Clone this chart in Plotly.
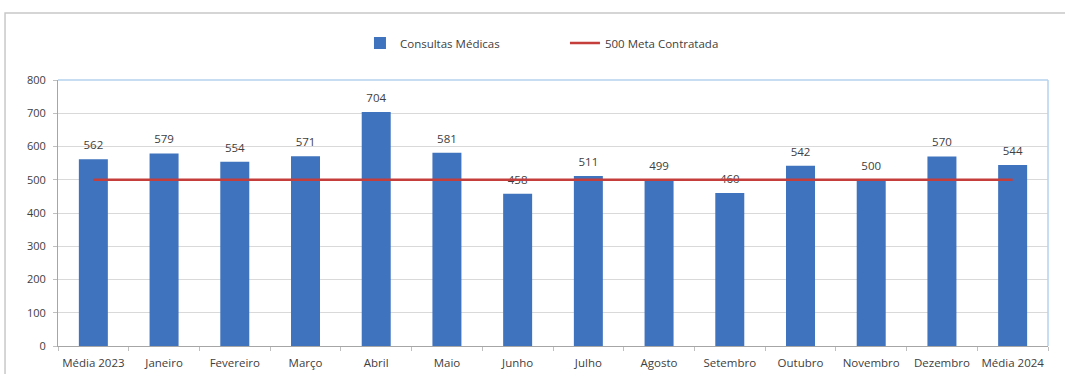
import plotly.graph_objects as go

# Monthly medical consultations vs. contracted target
categories = ["Média 2023", "Janeiro", "Fevereiro", "Março", "Abril", "Maio", "Junho",
              "Julho", "Agosto", "Setembro", "Outubro", "Novembro", "Dezembro", "Média 2024"]
consultas = [562, 579, 554, 571, 704, 581, 458, 511, 499, 460, 542, 500, 570, 544]
meta = [500] * len(categories)
y_ticks = [0, 100, 200, 300, 400, 500, 600, 700, 800]

BAR_BLUE = "#3F73BD"
LINE_RED = "#C63E3C"
TEXT = "#404040"
FONT = "'Open Sans', sans-serif"

fig = go.Figure()

fig.add_trace(go.Bar(
    x=categories, y=consultas, name="Consultas Médicas",
    marker=dict(color=BAR_BLUE, line=dict(width=0)),
    width=0.41,
))

# value labels floating above each bar
fig.add_trace(go.Scatter(
    x=categories, y=consultas, mode="markers+text", showlegend=False,
    marker=dict(size=10, opacity=0),
    text=[str(v) for v in consultas], textposition="top center",
    textfont=dict(family=FONT, size=11.5, color=TEXT),
    cliponaxis=False, hoverinfo="skip",
))

fig.add_trace(go.Scatter(
    x=categories, y=meta, name="500 Meta Contratada",
    mode="lines", line=dict(color=LINE_RED, width=2.5),
))

fig.update_layout(
    width=1065, height=374,
    margin=dict(l=58, r=17, t=80, b=28),
    paper_bgcolor="white", plot_bgcolor="white",
    font=dict(family=FONT, size=11, color=TEXT),
    showlegend=True,
    legend=dict(orientation="h", xref="container", yref="container",
                x=0.338, xanchor="left", y=0.885, yanchor="middle",
                font=dict(family=FONT, size=11.5, color=TEXT),
                entrywidth=160, entrywidthmode="pixels",
                traceorder="normal", bgcolor="rgba(0,0,0,0)"),
    bargap=0.59,
    xaxis=dict(
        type="category", range=[-0.5, len(categories) - 0.5],
        showgrid=False, showline=True, linecolor="#A6A6A6", linewidth=1,
        ticks="outside", tickson="boundaries", ticklen=4, tickcolor="#BFBFBF",
        ticklabelstandoff=6, tickangle=0, automargin=False,
        tickfont=dict(family=FONT, size=11.5, color=TEXT), fixedrange=True,
    ),
    yaxis=dict(
        range=[0, 800], tickvals=y_ticks, showgrid=True, gridcolor="#D9D9D9", gridwidth=1,
        showline=True, linecolor="#A6A6A6", linewidth=1, zeroline=False, automargin=False,
        ticks="outside", ticklen=4, tickcolor="#BFBFBF", ticklabelstandoff=5,
        tickfont=dict(family=FONT, size=11, color=TEXT), fixedrange=True,
    ),
    shapes=[
        # outer chart frame
        dict(type="rect", xref="paper", yref="paper", x0=-0.0535, x1=1.03, y0=-0.15, y1=1.252,
             line=dict(color="#C8C8C8", width=1.5), layer="below"),
        # light blue plot-area border on top and right
        dict(type="line", xref="paper", yref="paper", x0=0, x1=1, y0=1, y1=1,
             line=dict(color="#B4D2EE", width=1.5)),
        dict(type="line", xref="paper", yref="paper", x0=1, x1=1, y0=0, y1=1,
             line=dict(color="#B4D2EE", width=1.5)),
    ],
)

fig.write_html("out.html")
